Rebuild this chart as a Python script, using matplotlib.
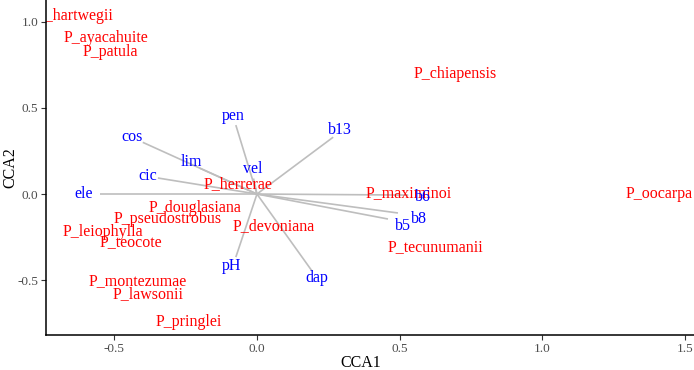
import matplotlib
matplotlib.use("Agg")
import matplotlib.pyplot as plt

# Species scores (label centres)
species = ["P_hartwegii", "P_ayacahuite", "P_patula", "P_chiapensis", "P_herrerae",
           "P_maximinoi", "P_oocarpa", "P_douglasiana", "P_pseudostrobus", "P_leiophylla",
           "P_teocote", "P_devoniana", "P_tecunumanii", "P_montezumae", "P_lawsonii",
           "P_pringlei"]
sp_x = [-0.639, -0.529, -0.512, 0.695, -0.065, 0.532, 1.41, -0.217, -0.313, -0.541,
        -0.441, 0.057, 0.625, -0.417, -0.382, -0.238]
sp_y = [1.035, 0.905, 0.826, 0.696, 0.06, 0.005, 0.0, -0.083, -0.145, -0.22,
        -0.28, -0.186, -0.306, -0.505, -0.58, -0.743]

# Environmental vectors: arrow ends and label positions
env = ["pen", "b13", "cos", "lim", "vel", "cic", "ele", "pH", "dap", "b6", "b8", "b5"]
env_x = [-0.074, 0.267, -0.40, -0.20, -0.012, -0.347, -0.55, -0.074, 0.193, 0.53, 0.494, 0.459]
env_y = [0.40, 0.33, 0.30, 0.15, 0.09, 0.093, 0.0, -0.366, -0.447, -0.006, -0.110, -0.145]
lab_x = [-0.084, 0.29, -0.438, -0.231, -0.014, -0.382, -0.606, -0.088, 0.21, 0.58, 0.567, 0.51]
lab_y = [0.453, 0.37, 0.33, 0.186, 0.145, 0.104, 0.0, -0.418, -0.49, -0.017, -0.145, -0.186]

xticks = [-0.5, 0.0, 0.5, 1.0, 1.5]
yticks = [-0.5, 0.0, 0.5, 1.0]

plt.rcParams['font.family'] = ['Liberation Serif', 'DejaVu Serif']

fig = plt.figure(figsize=(6.94, 3.70), dpi=100)
ax = fig.add_axes([46/694, 1 - 335/370, 1 - 46/694, 335/370])

for x, y in zip(env_x, env_y):
    ax.plot([0, x], [0, y], color="#BEBEBE", lw=1.2, solid_capstyle="butt", zorder=1)

for s, x, y in zip(species, sp_x, sp_y):
    ax.text(x, y, s, color="red", fontsize=11.5, ha="center", va="center", zorder=2,
            clip_on=True)

for s, x, y in zip(env, lab_x, lab_y):
    ax.text(x, y, s, color="blue", fontsize=11.5, ha="center", va="center", zorder=3,
            clip_on=True)

ax.set_xlim(-0.739, 1.531)
ax.set_ylim(-0.818, 1.126)
ax.set_xticks(xticks)
ax.set_yticks(yticks)
ax.set_xticklabels([f"{t:.1f}" for t in xticks])
ax.set_yticklabels([f"{t:.1f}" for t in yticks])
ax.tick_params(axis="both", labelsize=9.5, labelcolor="#4D4D4D", color="#333333",
               length=3.5, width=0.8, pad=2)
for side in ["top", "right"]:
    ax.spines[side].set_visible(False)
for side in ["left", "bottom"]:
    ax.spines[side].set_linewidth(1.1)
    ax.spines[side].set_color("black")
ax.set_xlabel("CCA1", fontsize=11.5)
ax.set_ylabel("CCA2", fontsize=11.5)
ax.xaxis.set_label_coords((361 - 46) / 648, -20 / 335)
ax.yaxis.set_label_coords(-(46 - 18) / 648, 0.5)

fig.savefig("out.png", dpi=100)
